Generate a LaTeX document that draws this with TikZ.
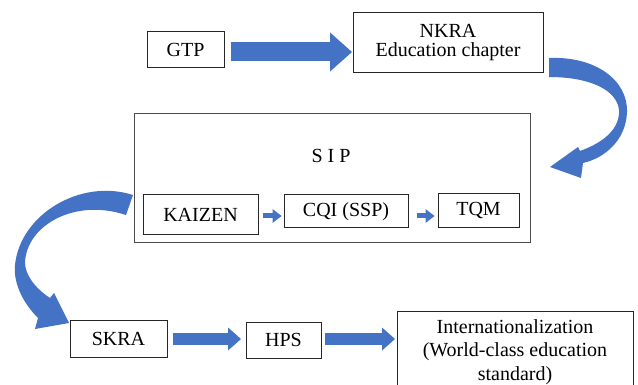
\documentclass[tikz,border=0pt]{standalone}
\usepackage{fontspec}
\setmainfont{Liberation Serif}
\usetikzlibrary{arrows.meta,calc}
\definecolor{ablue}{HTML}{4472C4}
\begin{document}
\begin{tikzpicture}[x=1pt,y=-1pt,
  box/.style={draw=black!85, line width=1pt, inner sep=0pt, align=center,
    font=\fontsize{20}{20}\selectfont},
  bigarrow/.style={draw=ablue, line width=19pt,
    -{Triangle[length=22pt,width=39pt,line width=0pt]}},
  medarrow/.style={draw=ablue, line width=12pt,
    -{Triangle[length=13pt,width=23pt,line width=0pt]}},
  smallarrow/.style={draw=ablue, line width=5pt,
    -{Triangle[length=9pt,width=14pt,line width=0pt]}},
  curvearrow/.style={fill=ablue}]
\clip (0,0) rectangle (638,385);
\fill[white] (0,0) rectangle (638,385);
% nodes
\node[box, minimum width=77pt, minimum height=36pt] (gtp) at (185.5,50) {GTP};
\node[box, minimum width=190pt, minimum height=60pt,
  font=\fontsize{20}{19}\selectfont] (nkra) at (448,43) {NKRA\\Education chapter};
\node[box, draw=black!70, minimum width=396pt, minimum height=129pt] (sip) at (332,178.5) {};
\node[font=\fontsize{20}{20}\selectfont, inner sep=0pt] (siplabel) at (331,156) {S I P};
\node[box, minimum width=115pt, minimum height=40pt] (kaizen) at (200.5,215) {KAIZEN};
\node[box, minimum width=124pt, minimum height=33pt] (cqi) at (346,211.5) {CQI (SSP)};
\node[box, minimum width=81pt, minimum height=34pt] (tqm) at (478.5,211) {TQM};
\node[box, minimum width=97pt, minimum height=37pt] (skra) at (118.5,338.5) {SKRA};
\node[box, minimum width=75pt, minimum height=36pt] (hps) at (283.5,340) {HPS};
\node[box, minimum width=236pt, minimum height=82pt,
  font=\fontsize{20}{23.5}\selectfont] (intl) at (515,352)
  {Internationalization\\(World-class education\\standard)};
% straight block arrows
\draw[bigarrow] ($(gtp.east)+(6,2)$) -- ($(nkra.west)+(-0.5,9)$);
\draw[smallarrow] ($(kaizen.east)+(4,1)$) -- ($(cqi.west)+(-2,4.5)$);
\draw[smallarrow] ($(cqi.east)+(8,4.5)$) -- ($(tqm.west)+(-3,5)$);
\draw[medarrow] ($(skra.east)+(5,0.5)$) -- ($(hps.west)+(-4.5,-1)$);
\draw[medarrow] ($(hps.east)+(3.5,-1)$) -- ($(intl.west)+(-1.5,-13)$);
% curved block arrows
\fill[curvearrow] (549,58) .. controls (595,56) and (628,80) .. (627,112)
  .. controls (626,140) and (605,158) .. (583,163)
  -- (581,178) -- (550,167) -- (578,147) -- (580,151)
  .. controls (605,142) and (620,128) .. (619,110)
  .. controls (617,90) and (590,77) .. (549,77) -- cycle;
\fill[curvearrow] (133,195) .. controls (80,178) and (20,215) .. (15,265)
  .. controls (13,285) and (25,305) .. (38,318)
  -- (35,329) -- (69,323) -- (54,293) -- (50,298)
  .. controls (35,288) and (25,275) .. (25,262)
  .. controls (27,225) and (75,198) .. (126,215) -- cycle;
\end{tikzpicture}
\end{document}
